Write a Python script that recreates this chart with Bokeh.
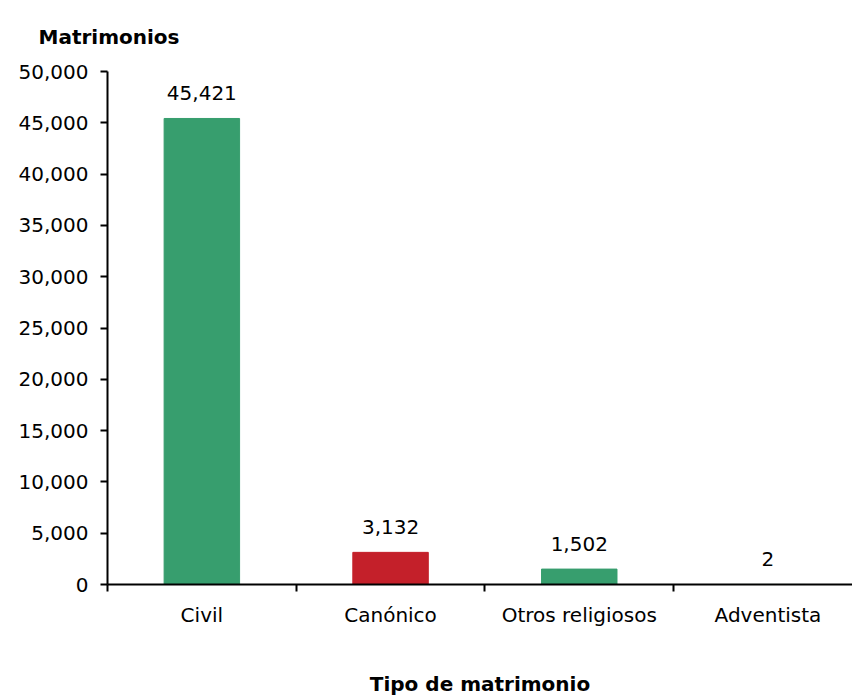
from bokeh.plotting import figure
from bokeh.models import (ColumnDataSource, Range1d, FixedTicker, NumeralTickFormatter, Title)
from bokeh.core.properties import value
from bokeh.embed import file_html
from bokeh.resources import INLINE

categories = ["Civil", "Canónico", "Otros religiosos", "Adventista"]
values = [45421, 3132, 1502, 2]
colors = ["#379E6E", "#C4202A", "#379E6E", "#379E6E"]
value_labels = ["45,421", "3,132", "1,502", "2"]
y_ticks = [0, 5000, 10000, 15000, 20000, 25000, 30000, 35000, 40000, 45000, 50000]

FONT = "DejaVu Sans"
FS = "20px"

positions = [i + 0.5 for i in range(len(categories))]
src = ColumnDataSource(dict(x=positions, top=values, color=colors, lab=value_labels))

p = figure(width=852, height=698, output_backend="svg", toolbar_location=None,
           x_range=Range1d(0, 3.948), y_range=Range1d(0, 50000),
           min_border_left=107, min_border_right=0, min_border_top=71, min_border_bottom=112)
p.title = None
p.outline_line_color = None
p.xgrid.grid_line_color = None
p.ygrid.grid_line_color = None

p.vbar(x="x", top="top", width=0.4, bottom=0, fill_color="color", line_color="color", source=src)
p.text(x="x", y="top", text="lab", source=src, text_align="center", text_baseline="alphabetic",
       y_offset=-25, text_font=value(FONT), text_font_size=FS, text_color="#000000")

# y axis
ya = p.yaxis[0]
ya.ticker = FixedTicker(ticks=y_ticks, minor_ticks=[])
ya.formatter = NumeralTickFormatter(format="0,0")
ya.axis_line_width = 2
ya.axis_line_color = "black"
ya.major_tick_line_width = 2
ya.major_tick_out = 7
ya.major_tick_in = 0
ya.minor_tick_line_color = None
ya.major_label_standoff = 12
ya.major_label_text_font = FONT
ya.major_label_text_font_size = FS
ya.major_label_text_color = "black"

# x axis
xa = p.xaxis[0]
xa.ticker = FixedTicker(ticks=positions, minor_ticks=[0, 1, 2, 3])
xa.major_label_overrides = {pos: c for pos, c in zip(positions, categories)}
xa.axis_line_width = 2
xa.axis_line_color = "black"
xa.major_tick_line_color = None
xa.major_tick_out = 0
xa.major_tick_in = 0
xa.minor_tick_line_color = "black"
xa.minor_tick_line_width = 2
xa.minor_tick_out = 7
xa.minor_tick_in = 0
xa.major_label_standoff = 11
xa.major_label_text_font = FONT
xa.major_label_text_font_size = FS
xa.major_label_text_color = "black"
xa.axis_label = "Tipo de matrimonio"
xa.axis_label_text_font = FONT
xa.axis_label_text_font_style = "bold"
xa.axis_label_text_font_size = FS
xa.axis_label_standoff = 42
xa.axis_label_text_color = "black"

t = Title(text="Matrimonios", align="left", offset=-69, standoff=45,
          text_font=FONT, text_font_style="bold", text_font_size=FS, text_color="black")
p.add_layout(t, "above")

open("out.html", "w").write(file_html(p, INLINE))
